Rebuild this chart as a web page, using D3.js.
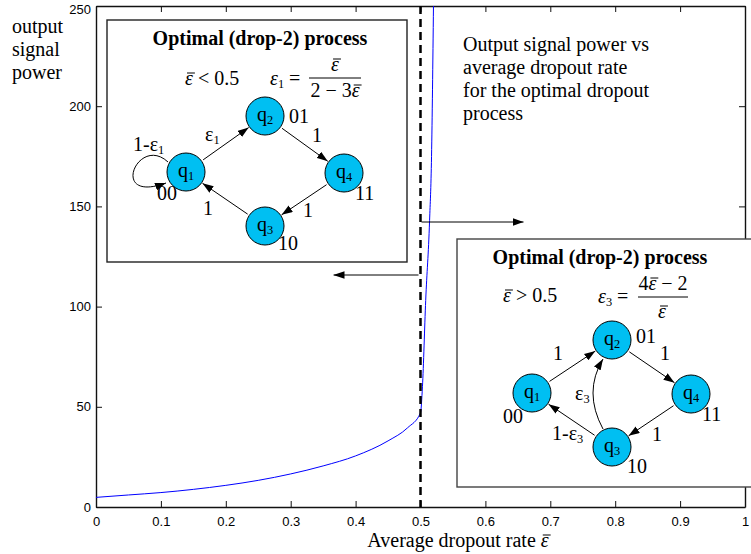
<!DOCTYPE html>
<html>
<head>
<meta charset="utf-8">
<script src="https://cdn.jsdelivr.net/npm/d3@7"></script>
<style>
  body { margin: 0; background: #fff; }
  svg { display: block; }
</style>
</head>
<body>
<svg id="chart" width="751" height="554"></svg>
<script>
// curve
const dropRate = [0, 0.05, 0.1, 0.15, 0.2, 0.25, 0.3, 0.35, 0.4, 0.45, 0.48, 0.5, 0.503, 0.508, 0.514, 0.517, 0.52];
const outPower = [4.8, 6, 7.2, 8.8, 10.8, 13.3, 16.5, 20.5, 25.5, 33, 39.5, 47, 60, 103, 143, 175, 250];

const xTicks = [0, 0.1, 0.2, 0.3, 0.4, 0.5, 0.6, 0.7, 0.8, 0.9, 1];
const xTickLabels = ['0', '0.1', '0.2', '0.3', '0.4', '0.5', '0.6', '0.7', '0.8', '0.9', '1'];
const yTicks = [0, 50, 100, 150, 200, 250];
const yTickLabels = ['0', '50', '100', '150', '200', '250'];

const serif = "'Liberation Serif', 'Times New Roman', serif";
const sans = "'Liberation Sans', Arial, sans-serif";
const nodeFill = '#00bff2';

svg = d3.select('#chart');
left = 96; right = 745; top_ = 6; bottom = 507;

x = d3.scaleLinear().domain([0, 1]).range([left, right]);
y = d3.scaleLinear().domain([0, 250]).range([bottom, top_]);

defs = svg.append('defs');
defs.append('clipPath').attr('id', 'plotclip')
    .append('rect').attr('x', left).attr('y', top_).attr('width', right - left).attr('height', bottom - top_);
defs.append('marker').attr('id', 'arr')
    .attr('viewBox', '0 0 10 7').attr('refX', 10).attr('refY', 3.5)
    .attr('markerWidth', 11).attr('markerHeight', 8)
    .attr('markerUnits', 'userSpaceOnUse').attr('orient', 'auto')
    .append('path').attr('d', 'M0,0 L10,3.5 L0,7 z').attr('fill', '#000');

// axes, MATLAB style: ticks inward on all sides
axB = svg.append('g').attr('transform', `translate(0,${bottom})`)
    .call(d3.axisBottom(x).tickValues(xTicks).tickFormat((d, i) => xTickLabels[i]).tickSizeInner(-6).tickSizeOuter(0).tickPadding(10));
axT = svg.append('g').attr('transform', `translate(0,${top_})`)
    .call(d3.axisTop(x).tickValues(xTicks).tickFormat('').tickSizeInner(-6).tickSizeOuter(0));
axL = svg.append('g').attr('transform', `translate(${left},0)`)
    .call(d3.axisLeft(y).tickValues(yTicks).tickFormat((d, i) => yTickLabels[i]).tickSizeInner(-6).tickSizeOuter(0).tickPadding(5));
axR = svg.append('g').attr('transform', `translate(${right},0)`)
    .call(d3.axisRight(y).tickValues(yTicks).tickFormat('').tickSizeInner(-6).tickSizeOuter(0));
[axB, axT, axL, axR].forEach(function(a){
    a.selectAll('.domain').attr('stroke', '#111').attr('stroke-width', 1.4);
    a.selectAll('.tick line').attr('stroke', '#111');
    a.selectAll('text').attr('font-family', sans).attr('font-size', 13).attr('fill', '#000');
});
// top label sits at the very edge; nudge it in
axL.selectAll('.tick text').filter(d => d === 250).attr('dy', '0.6em');

// curve
line = d3.line().x((d, i) => x(dropRate[i])).y(d => y(d)).curve(d3.curveMonotoneX);
svg.append('path').datum(outPower)
    .attr('clip-path', 'url(#plotclip)')
    .attr('d', line).attr('fill', 'none').attr('stroke', '#0000ff').attr('stroke-width', 1);

// dashed line at 0.5
svg.append('line')
    .attr('x1', x(0.5)).attr('x2', x(0.5)).attr('y1', top_).attr('y2', bottom)
    .attr('stroke', '#000').attr('stroke-width', 2.5).attr('stroke-dasharray', '8,5');

// arrows pointing to the two boxes
svg.append('line').attr('x1', x(0.5) - 2).attr('x2', x(0.5) - 87).attr('y1', 275).attr('y2', 275)
    .attr('stroke', '#000').attr('stroke-width', 1).attr('marker-end', 'url(#arr)');
svg.append('line').attr('x1', x(0.5) + 1).attr('x2', x(0.5) + 103).attr('y1', 222).attr('y2', 222)
    .attr('stroke', '#000').attr('stroke-width', 1).attr('marker-end', 'url(#arr)');

// text with italic / subscript / barred parts
function rich(g, tx, ty, parts, size, anchor, weight){
    t = g.append('text').attr('x', tx).attr('y', ty)
        .attr('font-family', serif).attr('font-size', size)
        .attr('text-anchor', anchor || 'start').attr('fill', '#000');
    if (weight) t.attr('font-weight', weight);
    cur = 0;
    spans = [];
    parts.forEach(function(p){
        want = p.sub ? size * 0.15 : 0;
        s = t.append('tspan').text(p.t);
        if (want - cur !== 0) s.attr('dy', want - cur);
        cur = want;
        if (p.it) s.attr('font-style', 'italic');
        if (p.sub) s.attr('font-size', size * 0.62);
        spans.push([s, p]);
    });
    spans.forEach(function(sp){
        if (!sp[1].bar) return;
        n = sp[0].node();
        st = n.getStartPositionOfChar(0);
        len = n.getComputedTextLength();
        g.append('line')
            .attr('x1', st.x + size * 0.1).attr('x2', st.x + len + size * 0.1)
            .attr('y1', ty - size * 0.6).attr('y2', ty - size * 0.6)
            .attr('stroke', '#000').attr('stroke-width', 1);
    });
    return t;
}

function node(g, cx, cy, idx){
    g.append('circle').attr('cx', cx).attr('cy', cy).attr('r', 19)
        .attr('fill', nodeFill).attr('stroke', '#000').attr('stroke-width', 1);
    rich(g, cx, cy + 5, [{t: 'q'}, {t: String(idx), sub: true}], 20, 'middle');
}

function edge(g, a, b){
    dx = b[0] - a[0]; dy = b[1] - a[1];
    d = Math.sqrt(dx * dx + dy * dy);
    ux = dx / d; uy = dy / d;
    g.append('line')
        .attr('x1', a[0] + ux * 21).attr('y1', a[1] + uy * 21)
        .attr('x2', b[0] - ux * 20).attr('y2', b[1] - uy * 20)
        .attr('stroke', '#000').attr('stroke-width', 1).attr('marker-end', 'url(#arr)');
}

// left box: eps < 0.5
gl = svg.append('g');
gl.append('rect').attr('x', 107).attr('y', 20).attr('width', 300).attr('height', 242)
    .attr('fill', '#fff').attr('stroke', '#222').attr('stroke-width', 1.4);
rich(gl, 260, 45, [{t: 'Optimal (drop-2) process'}], 20, 'middle', 'bold');
rich(gl, 185, 85, [{t: 'ε', it: true, bar: true}, {t: ' < 0.5'}], 20);
rich(gl, 270, 85, [{t: 'ε', it: true}, {t: '1', sub: true}, {t: ' ='}], 20);
gl.append('line').attr('x1', 309).attr('x2', 361).attr('y1', 78).attr('y2', 78).attr('stroke', '#000').attr('stroke-width', 1);
rich(gl, 335, 71, [{t: 'ε', it: true, bar: true}], 20, 'middle');
rich(gl, 335, 97, [{t: '2 − 3'}, {t: 'ε', it: true, bar: true}], 20, 'middle');

L = {q1: [186, 172], q2: [265, 116], q4: [344, 173], q3: [265, 226]};
edge(gl, L.q1, L.q2); edge(gl, L.q2, L.q4); edge(gl, L.q4, L.q3); edge(gl, L.q3, L.q1);
gl.append('path').attr('d', 'M168,162 C138,134 108,204 166,183')
    .attr('fill', 'none').attr('stroke', '#000').attr('stroke-width', 1).attr('marker-end', 'url(#arr)');
node(gl, L.q1[0], L.q1[1], 1); node(gl, L.q2[0], L.q2[1], 2);
node(gl, L.q4[0], L.q4[1], 4); node(gl, L.q3[0], L.q3[1], 3);
rich(gl, 289, 123, [{t: '01'}], 20);
rich(gl, 317, 142, [{t: '1'}], 20, 'middle');
rich(gl, 355, 200, [{t: '11'}], 20);
rich(gl, 308, 217, [{t: '1'}], 20, 'middle');
rich(gl, 278, 250, [{t: '10'}], 20);
rich(gl, 208, 215, [{t: '1'}], 20, 'middle');
rich(gl, 157, 200, [{t: '00'}], 20);
rich(gl, 133, 151, [{t: '1-ε'}, {t: '1', sub: true}], 20);
rich(gl, 205, 141, [{t: 'ε'}, {t: '1', sub: true}], 20);

// right box: eps > 0.5
gr = svg.append('g');
gr.append('rect').attr('x', 457).attr('y', 239).attr('width', 320).attr('height', 248)
    .attr('fill', '#fff').attr('stroke', '#444').attr('stroke-width', 1.4);
rich(gr, 600, 264, [{t: 'Optimal (drop-2) process'}], 20, 'middle', 'bold');
rich(gr, 503, 302, [{t: 'ε', it: true, bar: true}, {t: ' > 0.5'}], 20);
rich(gr, 598, 303, [{t: 'ε', it: true}, {t: '3', sub: true}, {t: ' ='}], 20);
gr.append('line').attr('x1', 638).attr('x2', 688).attr('y1', 297).attr('y2', 297).attr('stroke', '#000').attr('stroke-width', 1);
rich(gr, 663, 290, [{t: '4'}, {t: 'ε', it: true, bar: true}, {t: ' − 2'}], 20, 'middle');
rich(gr, 662, 318, [{t: 'ε', it: true, bar: true}], 20, 'middle');

R = {q1: [532, 393], q2: [612, 340], q4: [691, 394], q3: [612, 447]};
edge(gr, R.q1, R.q2); edge(gr, R.q2, R.q4); edge(gr, R.q4, R.q3); edge(gr, R.q3, R.q1);
gr.append('path').attr('d', 'M603,429 Q583,392 603,359')
    .attr('fill', 'none').attr('stroke', '#000').attr('stroke-width', 1).attr('marker-end', 'url(#arr)');
node(gr, R.q1[0], R.q1[1], 1); node(gr, R.q2[0], R.q2[1], 2);
node(gr, R.q4[0], R.q4[1], 4); node(gr, R.q3[0], R.q3[1], 3);
rich(gr, 636, 343, [{t: '01'}], 20);
rich(gr, 558, 360, [{t: '1'}], 20, 'middle');
rich(gr, 665, 360, [{t: '1'}], 20, 'middle');
rich(gr, 575, 400, [{t: 'ε'}, {t: '3', sub: true}], 20);
rich(gr, 503, 423, [{t: '00'}], 20);
rich(gr, 702, 421, [{t: '11'}], 20);
rich(gr, 552, 440, [{t: '1-ε'}, {t: '3', sub: true}], 20);
rich(gr, 657, 441, [{t: '1'}], 20, 'middle');
rich(gr, 627, 473, [{t: '10'}], 20);

// note text top right
note = ['Output signal power vs', 'average dropout rate', 'for the optimal dropout', 'process'];
note.forEach(function(s, i){
    rich(svg, 463, 51 + i * 23, [{t: s}], 20);
});

// axis labels
['output', 'signal', 'power'].forEach(function(s, i){
    rich(svg, 12, 33 + i * 23, [{t: s}], 20);
});
rich(svg, 458, 547, [{t: 'Average dropout rate  '}, {t: 'ε', it: true, bar: true}], 20, 'middle');
</script>
</body>
</html>
